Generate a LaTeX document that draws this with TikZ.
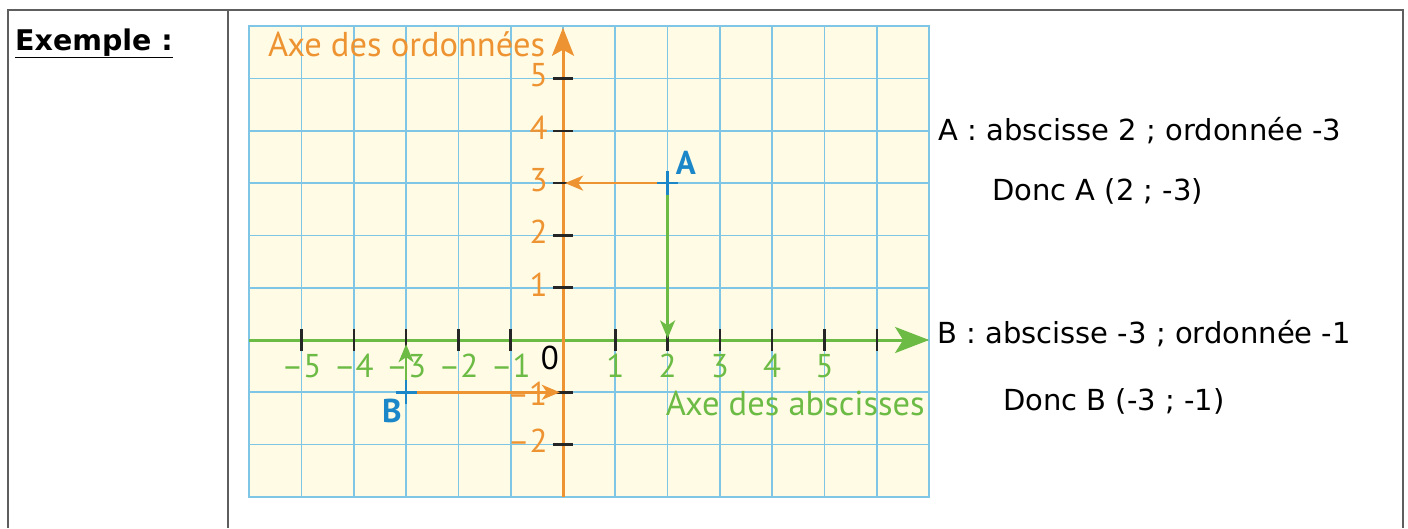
\documentclass[tikz,border=0pt]{standalone}
\usepackage{fontspec}
\setmainfont{DejaVu Sans}
\newfontfamily\graphfont{PT Sans}
\usetikzlibrary{arrows.meta}
\definecolor{gridbg}{HTML}{FFFBE4}
\definecolor{gridln}{HTML}{7EC5E6}
\definecolor{axorange}{HTML}{EE9331}
\definecolor{axgreen}{HTML}{6CBB45}
\definecolor{ptblue}{HTML}{1B87C9}
\definecolor{tabline}{HTML}{5E5E5E}
\begin{document}
\begin{tikzpicture}[x=1pt,y=-1pt,
  tabrule/.style={draw=tabline,line width=2pt},
  txt/.style={anchor=base west,inner sep=0pt,font=\fontsize{29}{34}\selectfont},
  gline/.style={draw=gridln,line width=1.7pt},
  ticku/.style={draw=black!85,line width=2.5pt},
  xlab/.style={anchor=base,inner sep=0pt,text=axgreen,font=\graphfont\fontsize{33}{38}\selectfont},
  ylab/.style={anchor=base east,inner sep=0pt,text=axorange,font=\graphfont\fontsize{33}{38}\selectfont},
  ttl/.style={anchor=base east,inner sep=0pt,font=\graphfont\fontsize{34.5}{40}\selectfont},
  ptlab/.style={inner sep=0pt,text=ptblue,font=\graphfont\bfseries\fontsize{33}{38}\selectfont},
  orarr/.style={draw=axorange,line width=2.5pt,-{Stealth[length=18pt,width=15pt,inset=5pt]}},
  grarr/.style={draw=axgreen,line width=2.5pt,-{Stealth[length=18pt,width=15pt,inset=5pt]}},
  cross/.style={draw=ptblue,line width=2.5pt}]
\useasboundingbox (0,0) rectangle (1408,528);
\fill[white] (0,0) rectangle (1408,528);
% table
\draw[tabrule] (8,528) -- (8,10) -- (1403,10) -- (1403,528);
\draw[tabrule] (228,10) -- (228,528);
\node[anchor=base west,inner sep=0pt,font=\bfseries\fontsize{28.5}{33}\selectfont] (ex) at (15,50) {\underline{Exemple :}};
% right texts
\node[txt] (ta) at (938,140) {A : abscisse 2 ; ordonnée -3};
\node[txt] (tda) at (992,200) {Donc A (2 ; -3)};
\node[txt] (tb) at (937,343) {B : abscisse -3 ; ordonnée -1};
\node[txt] (tdb) at (1003,410) {Donc B (-3 ; -1)};
% graph
\begin{scope}[shift={(563pt,-340pt)},x=52.3pt,y=52.3pt]
\fill[gridbg] (-6,-3) rectangle (7,6);
\foreach \i in {-5,...,6} \draw[gline] (\i,-3) -- (\i,6);
\foreach \j in {-2,...,5} \draw[gline] (-6,\j) -- (7,\j);
\draw[draw=gridln,line width=2pt] (-6,-3) rectangle (7,6);
\coordinate (xL) at (-6,0);
\coordinate (xR) at (7,0);
\coordinate (yB) at (0,-3);
\coordinate (yT) at (0,5.97);
\draw[draw=axgreen,line width=3pt,-{Stealth[length=34pt,width=26pt,inset=8pt]}] (xL) -- (xR);
\draw[draw=axorange,line width=3pt,-{Stealth[length=28pt,width=22pt,inset=6pt]}] (yB) -- (yT);
\foreach \i in {-5,-4,-3,-2,-1,1,2,3,4,5,6} \draw[ticku] (\i,-0.21) -- (\i,0.21);
\foreach \j in {-2,-1,1,2,3,4,5} \draw[ticku] (-0.19,\j) -- (0.19,\j);
\foreach \i/\l in {-5/–5,-4/–4,-3/–3,-2/–2,-1/–1,1/1,2/2,3/3,4/4,5/5}
  \node[xlab] (xl\i) at (\i,-0.71) {\l};
\foreach \j/\l in {1/1,2/2,3/3,4/4,5/5,-2/–2}
  \node[ylab] (yl\j) at (-0.29,\j-0.16) {\l};
\node[ylab] (ylm1) at (-0.3,-1.25) {–1};
\node[anchor=base,inner sep=0pt,font=\graphfont\fontsize{33}{38}\selectfont] (zero) at (-0.25,-0.57) {0};
\node[ttl,text=axorange] (tord) at (-0.34,5.43) {Axe des ordonnées};
\node[ttl,text=axgreen] (tabs) at (6.92,-1.45) {Axe des abscisses};
% points
\coordinate (A) at (2,3);
\coordinate (B) at (-3,-1);
\coordinate (Ay) at (0.04,3);
\coordinate (Ax) at (2,0.03);
\coordinate (By) at (-0.06,-1);
\coordinate (Bx) at (-3,-0.08);
\draw[orarr] (A) -- (Ay);
\draw[grarr] (A) -- (Ax);
\draw[orarr] (B) -- (By);
\draw[grarr] (B) -- (Bx);
\draw[cross] (A) ++(-0.2,0) -- ++(0.4,0) (A) ++(0,-0.23) -- ++(0,0.46);
\draw[cross] (B) ++(-0.2,0) -- ++(0.4,0) (B) ++(0,-0.23) -- ++(0,0.46);
\node[ptlab] (Alab) at (2.35,3.38) {A};
\node[ptlab] (Blab) at (-3.27,-1.36) {B};
\end{scope}
\end{tikzpicture}
\end{document}
